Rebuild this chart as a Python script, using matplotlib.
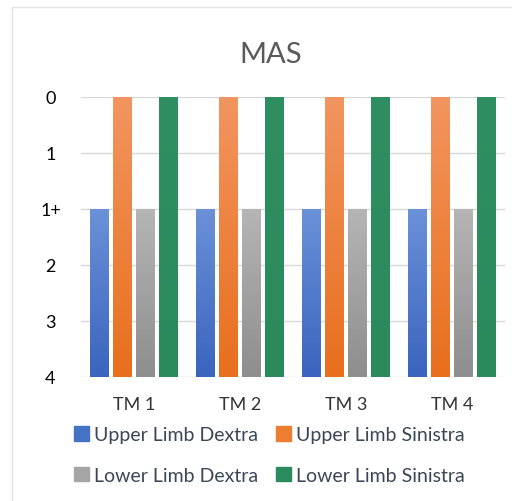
import matplotlib
matplotlib.use("Agg")
import matplotlib.pyplot as plt
import numpy as np
from matplotlib.colors import LinearSegmentedColormap
from matplotlib.patches import Rectangle

# ---- data ----
categories = ["TM 1", "TM 2", "TM 3", "TM 4"]
mas_levels = ["0", "1", "1+", "2", "3", "4"]          # top to bottom
series_names = ["Upper Limb Dextra", "Upper Limb Sinistra",
                "Lower Limb Dextra", "Lower Limb Sinistra"]
upper_dextra = ["1+", "1+", "1+", "1+"]
upper_sinistra = ["0", "0", "0", "0"]
lower_dextra = ["1+", "1+", "1+", "1+"]
lower_sinistra = ["0", "0", "0", "0"]
series_values = [upper_dextra, upper_sinistra, lower_dextra, lower_sinistra]

# gradient colours (top, bottom)
grad_colors = [("#6B91D8", "#3A64BE"),
               ("#F29560", "#E86F1D"),
               ("#B5B5B5", "#8E8E8E"),
               ("#2F8F62", "#2A8A5C")]
legend_colors = ["#4472C4", "#ED7D31", "#A5A5A5", "#2A8C5E"]

plt.rcParams['font.family'] = ['Lato', 'DejaVu Sans']

fig = plt.figure(figsize=(5.12, 5.02), dpi=100)
# outer chart border
fig.patches.append(Rectangle((12 / 512, -0.1), 1.2, 1 - 8 / 502 + 0.1,
                             transform=fig.transFigure, fill=False,
                             edgecolor="#E3E3E3", linewidth=1.0))

ax = fig.add_axes([81 / 512, 1 - 378 / 502, 424 / 512, 280 / 502])

bottom_level = len(mas_levels) - 1
x = np.arange(len(categories))
width = 0.17
pitch = 0.217
offsets = (np.arange(4) - 1.5) * pitch

handles = []
for i, vals in enumerate(series_values):
    idx = np.array([mas_levels.index(v) for v in vals], dtype=float)
    bars = ax.bar(x + offsets[i], idx - bottom_level, width=width,
                  bottom=bottom_level, color=legend_colors[i], zorder=2,
                  linewidth=0)
    cmap = LinearSegmentedColormap.from_list("g%d" % i, list(grad_colors[i]))
    grad = np.linspace(0, 1, 256).reshape(-1, 1)
    for b in bars:
        x0 = b.get_x()
        x1 = x0 + b.get_width()
        ytop = b.get_y() + b.get_height()
        ybot = b.get_y()
        im = ax.imshow(grad, cmap=cmap, aspect="auto",
                       extent=(x0, x1, ybot, ytop), origin="upper",
                       zorder=3)
        im.set_clip_path(b)
    handles.append(Rectangle((0, 0), 1, 1, color=legend_colors[i]))

ax.set_xlim(-0.5, len(categories) - 0.5)
ax.set_ylim(bottom_level, 0)
ax.set_yticks(range(len(mas_levels)))
ax.set_yticklabels(mas_levels)
ax.set_xticks(x)
ax.set_xticklabels(categories)
ax.tick_params(axis="y", length=0, pad=22, labelsize=13, labelcolor="#000000")
for t in ax.get_yticklabels():
    t.set_horizontalalignment("center")
ax.tick_params(axis="x", length=0, pad=14, labelsize=13, labelcolor="#333333")
ax.grid(axis="y", color="#D9D9D9", linewidth=1.0, zorder=0)
ax.set_axisbelow(True)
for s in ax.spines.values():
    s.set_visible(False)

fig.text(271 / 512, 1 - 55 / 502, "MAS", ha="center", va="center",
         fontsize=21, color="#595959")

# row-wise order for a 2-column legend
order = [0, 2, 1, 3]
fig.legend([handles[k] for k in order], [series_names[k] for k in order],
           ncol=2, loc="center left",
           bbox_to_anchor=(74 / 512, 1 - 456 / 502), frameon=False,
           fontsize=14, handlelength=0.75, handleheight=0.75,
           handletextpad=0.3, columnspacing=0.9, labelspacing=1.2,
           labelcolor="#3B4656", borderaxespad=0, borderpad=0)

fig.savefig("out.png", dpi=100)
